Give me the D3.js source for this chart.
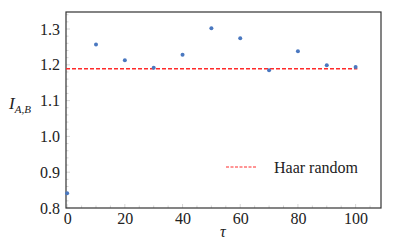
<!DOCTYPE html>
<html>
<head>
<meta charset="utf-8">
<script src="https://cdn.jsdelivr.net/npm/d3@7"></script>
<style>
  body { margin: 0; background: #fff; }
  svg text { font-family: "Times New Roman", "Liberation Serif", Times, serif; }
</style>
</head>
<body>
<svg></svg>
<script>
const w = 399;
const h = 242;
const margin = { top: 12, right: 18, bottom: 34, left: 66 };
const serif = '"Times New Roman", "Liberation Serif", Times, serif';

// data
const tau = [0, 10, 20, 30, 40, 50, 60, 70, 80, 90, 100];
const info = [0.841, 1.257, 1.213, 1.192, 1.228, 1.302, 1.274, 1.185, 1.238, 1.199, 1.194];
const haar = 1.189;
const xTicks = [0, 20, 40, 60, 80, 100];
const yTicks = [0.8, 0.9, 1.0, 1.1, 1.2, 1.3];

const svg = d3.select('svg').attr('width', w).attr('height', h);

const xScale = d3.scaleLinear()
    .domain([-0.4, 108.8])
    .range([margin.left, w - margin.right]);
const yScale = d3.scaleLinear()
    .domain([0.8, 1.3475])
    .range([h - margin.bottom, margin.top]);

// minor ticks (light, inside)
const xMinor = d3.range(0, 108, 5);
const yMinor = d3.range(0.8, 1.345, 0.02);

svg.append('g')
    .selectAll('line')
    .data(xMinor)
    .enter()
    .append('line')
    .attr('x1', (d) => xScale(d))
    .attr('x2', (d) => xScale(d))
    .attr('y1', h - margin.bottom)
    .attr('y2', (d) => h - margin.bottom - (d % 20 === 0 ? 4 : 2.5))
    .attr('stroke', '#bbb')
    .attr('stroke-width', 0.6);

svg.append('g')
    .selectAll('line')
    .data(yMinor)
    .enter()
    .append('line')
    .attr('x1', margin.left)
    .attr('x2', (d, i) => margin.left + (i % 5 === 0 ? 4 : 2.5))
    .attr('y1', (d) => yScale(d))
    .attr('y2', (d) => yScale(d))
    .attr('stroke', '#bbb')
    .attr('stroke-width', 0.6);

// axes with labels only
const xAxis = d3.axisBottom(xScale).tickValues(xTicks).tickSize(0).tickPadding(5).tickFormat(d3.format('d'));
const yAxis = d3.axisLeft(yScale).tickValues(yTicks).tickSize(0).tickPadding(6).tickFormat(d3.format('.1f'));

const gx = svg.append('g')
    .attr('transform', 'translate(0,' + (h - margin.bottom) + ')')
    .call(xAxis);
const gy = svg.append('g')
    .attr('transform', 'translate(' + margin.left + ',0)')
    .call(yAxis);

[gx, gy].forEach((g) => {
    g.attr('font-family', serif).attr('font-size', 16);
    g.select('.domain').remove();
    g.selectAll('text').attr('fill', '#222');
});

// frame
svg.append('rect')
    .attr('x', margin.left)
    .attr('y', margin.top)
    .attr('width', w - margin.left - margin.right)
    .attr('height', h - margin.top - margin.bottom)
    .attr('fill', 'none')
    .attr('stroke', '#333')
    .attr('stroke-width', 1.2);

// Haar random line
svg.append('line')
    .attr('x1', xScale(-0.4))
    .attr('x2', xScale(100.6))
    .attr('y1', yScale(haar))
    .attr('y2', yScale(haar))
    .attr('stroke', '#ff2a2a')
    .attr('stroke-width', 1.4)
    .attr('stroke-dasharray', '4,2');

// points
svg.append('g')
    .selectAll('circle')
    .data(tau)
    .enter()
    .append('circle')
    .attr('cx', (d) => xScale(d))
    .attr('cy', (d, i) => yScale(info[i]))
    .attr('r', 2)
    .attr('fill', '#4a78c0');

// legend
svg.append('line')
    .attr('x1', 226)
    .attr('x2', 257)
    .attr('y1', 167)
    .attr('y2', 167)
    .attr('stroke', '#ff2a2a')
    .attr('stroke-width', 1)
    .attr('stroke-dasharray', '3,1.5');
svg.append('text')
    .attr('x', 274)
    .attr('y', 173)
    .attr('font-family', serif)
    .attr('font-size', 16)
    .attr('fill', '#222')
    .text('Haar random');

// axis titles
svg.append('text')
    .attr('x', 220)
    .attr('y', 237)
    .attr('font-family', serif)
    .attr('font-size', 16)
    .attr('font-style', 'italic')
    .attr('fill', '#222')
    .text('τ');

const yl = svg.append('text')
    .attr('x', 9)
    .attr('y', 109)
    .attr('font-family', serif)
    .attr('font-size', 17)
    .attr('font-style', 'italic')
    .attr('fill', '#222');
yl.append('tspan').text('I');
yl.append('tspan')
    .attr('font-size', 11)
    .attr('dy', 4)
    .text('A,B');
</script>
</body>
</html>
